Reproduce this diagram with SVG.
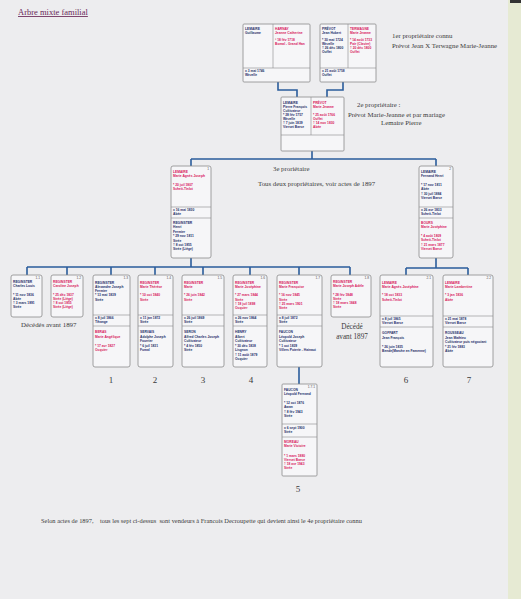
<svg xmlns="http://www.w3.org/2000/svg" width="521" height="599" viewBox="0 0 521 599">
<style>
.bg{fill:#ededef}
.b{fill:#f6f6f8;stroke:#8c8c8c;stroke-width:0.8}
.d{stroke:#8c8c8c;stroke-width:0.6;fill:none}
.t{font-family:"Liberation Sans",Arial,sans-serif;font-size:3.3px;font-weight:bold}
.m{fill:#1f2f6a}
.f{fill:#d8175c}
.l{font-family:"Liberation Sans",Arial,sans-serif;font-size:3.3px;fill:#555;text-anchor:end}
.c{stroke:#2a5c9c;stroke-width:1.6;fill:none}
.s{font-family:"Liberation Serif","Times New Roman",serif;fill:#3a3a3a}
.n{font-family:"Liberation Serif","Times New Roman",serif;fill:#3a3a3a;font-size:9px;text-anchor:middle}
</style>
<rect class="bg" x="0" y="0" width="521" height="599"/>
<rect x="508" y="0" width="13" height="599" fill="#e6ead3"/>
<rect x="510" y="0" width="11" height="3" fill="#333"/>

<text class="s" x="18" y="15" font-size="8.5" style="fill:#6a2858" text-decoration="underline">Arbre mixte familial</text>

<g id="connectors">
<path class="c" d="M278 82V90H297V97"/>
<path class="c" d="M343 82V90H327V97"/>
<path class="c" d="M312 151V159M191 159H436M191 159V166M436 159V166"/>
<path class="c" d="M191 258V267M27 267H350M27 267V275M67 267V275M111 267V275M155 267V275M203 267V275M250 267V275M299 267V275M350 267V275"/>
<path class="c" d="M436 258V268M406 268H468M406 268V275M468 268V275"/>
<path class="c" d="M299 367V384"/>
</g>

<g id="nodeA">
<rect class="b" x="243" y="24" width="67" height="58" rx="1"/>
<path class="d" d="M273 24V68M243 68H310"/>
<text class="t m" x="245" y="30">LEMAIRE<tspan x="245" dy="4">Guillaume</tspan></text>
<text class="t f" x="275" y="30">HARNAY<tspan x="275" dy="4">Jeanne Catherine</tspan><tspan x="275" dy="7">° 18 fév 1718</tspan><tspan x="275" dy="4">Bomal - Grand Han</tspan></text>
<text class="t m" x="245" y="72">x 3 mai 1746<tspan x="245" dy="4">Wezelle</tspan></text>
</g>

<g id="nodeB">
<rect class="b" x="320" y="24" width="56" height="58" rx="1"/>
<path class="d" d="M348 24V68M320 68H376"/>
<text class="t m" x="322" y="30">PRÉVOT<tspan x="322" dy="4">Jean Hubert</tspan><tspan x="322" dy="7">* 30 mai 1724</tspan><tspan x="322" dy="4">Wezelle</tspan><tspan x="322" dy="4">† 26 déc 1800</tspan><tspan x="322" dy="4">Ouffet</tspan></text>
<text class="t f" x="350" y="30">TERWAGNE<tspan x="350" dy="4">Marie Jeanne</tspan><tspan x="350" dy="7">* 14 août 1733</tspan><tspan x="350" dy="4">Pair (Clavier)</tspan><tspan x="350" dy="4">† 20 déc 1800</tspan><tspan x="350" dy="4">Ouffet</tspan></text>
<text class="t m" x="322" y="72">x 21 août 1758<tspan x="322" dy="4">Ouffet</tspan></text>
</g>

<g id="nodeC">
<rect class="b" x="281" y="97" width="63" height="54" rx="1"/>
<path class="d" d="M311 97V135M281 135H344"/>
<text class="t m" x="283" y="104">LEMAIRE<tspan x="283" dy="4">Pierre François</tspan><tspan x="283" dy="4">Cultivateur</tspan><tspan x="283" dy="4">* 28 fév 1757</tspan><tspan x="283" dy="4">Wezelle</tspan><tspan x="283" dy="4">† 7 juin 1839</tspan><tspan x="283" dy="4">Vierset Barse</tspan></text>
<text class="t f" x="313" y="104">PRÉVOT<tspan x="313" dy="4">Marie Jeanne</tspan><tspan x="313" dy="8">* 25 août 1766</tspan><tspan x="313" dy="4">Ouffet</tspan><tspan x="313" dy="4">† 14 nov 1830</tspan><tspan x="313" dy="4">Abée</tspan></text>
</g>

<g id="node1">
<rect class="b" x="171" y="166" width="40" height="92" rx="2"/>
<path class="d" d="M171 207H211M171 218H211"/>
<text class="l" x="209" y="170">1</text>
<text class="t f" x="173" y="173">LEMAIRE<tspan x="173" dy="4.3">Marie Agnès Joseph</tspan><tspan x="173" dy="8.6">* 20 juil 1807</tspan><tspan x="173" dy="4.3">Scheit-Tinlot</tspan></text>
<text class="t m" x="173" y="211">x 16 mai 1830<tspan x="173" dy="4">Abée</tspan></text>
<text class="t m" x="173" y="224">REGINSTER<tspan x="173" dy="4.4">Henri</tspan><tspan x="173" dy="4.4">Fermier</tspan><tspan x="173" dy="4.4">* 29 nov 1811</tspan><tspan x="173" dy="4.4">Strée</tspan><tspan x="173" dy="4.4">† 8 oct 1855</tspan><tspan x="173" dy="4.4">Strée (Liège)</tspan></text>
</g>

<g id="node2">
<rect class="b" x="419" y="166" width="34" height="92" rx="2"/>
<path class="d" d="M419 207H453M419 218H453"/>
<text class="l" x="451" y="170">2</text>
<text class="t m" x="421" y="173">LEMAIRE<tspan x="421" dy="4.3">Fernand Henri</tspan><tspan x="421" dy="8.6">* 17 nov 1811</tspan><tspan x="421" dy="4.3">Abée</tspan><tspan x="421" dy="4.3">† 30 juil 1884</tspan><tspan x="421" dy="4.3">Vierset Barse</tspan></text>
<text class="t m" x="421" y="211">x 26 avr 1833<tspan x="421" dy="4">Scheit-Tinlot</tspan></text>
<text class="t f" x="421" y="224">BOURS<tspan x="421" dy="4.3">Marie Joséphine</tspan><tspan x="421" dy="8.6">* 4 août 1809</tspan><tspan x="421" dy="4.3">Scheit-Tinlot</tspan><tspan x="421" dy="4.3">† 21 mars 1877</tspan><tspan x="421" dy="4.3">Vierset Barse</tspan></text>
</g>

<g id="node1-1">
<rect class="b" x="11" y="275" width="31" height="42" rx="2"/>
<text class="l" x="40" y="279">1.1</text>
<text class="t m" x="13" y="283">REGINSTER<tspan x="13" dy="4.2">Charles Louis</tspan><tspan x="13" dy="8.4">* 11 nov 1836</tspan><tspan x="13" dy="4.2">Abée</tspan><tspan x="13" dy="4.2">† 3 mars 1891</tspan><tspan x="13" dy="4.2">Strée</tspan></text>
</g>

<g id="node1-2">
<rect class="b" x="51" y="275" width="32" height="42" rx="2"/>
<text class="l" x="81" y="279">1.2</text>
<text class="t f" x="53" y="283">REGINSTER<tspan x="53" dy="4.2">Caroline Joseph</tspan><tspan x="53" dy="8.4">* 25 déc 1837</tspan><tspan x="53" dy="4.2">Strée (Liège)</tspan><tspan x="53" dy="4.2">† 8 oct 1855</tspan><tspan x="53" dy="4.2">Strée (Liège)</tspan></text>
</g>

<g id="node1-3">
<rect class="b" x="93" y="275" width="37" height="92" rx="2"/>
<path class="d" d="M93 315H130M93 326H130"/>
<text class="l" x="128" y="279">1.3</text>
<text class="t m" x="95" y="283.5">REGINSTER<tspan x="95" dy="4.3">Alexandre Joseph</tspan><tspan x="95" dy="4.3">Fermier</tspan><tspan x="95" dy="4.3">* 13 mai 1839</tspan><tspan x="95" dy="4.3">Strée</tspan></text>
<text class="t m" x="95" y="319">x 8 juil 1866<tspan x="95" dy="4">Tihange</tspan></text>
<text class="t f" x="95" y="333">BERAS<tspan x="95" dy="4.5">Marie Angélique</tspan><tspan x="95" dy="9">* 17 avr 1827</tspan><tspan x="95" dy="4.5">Ocquier</tspan></text>
</g>

<g id="node1-4">
<rect class="b" x="138" y="275" width="35" height="92" rx="2"/>
<path class="d" d="M138 315H173M138 326H173"/>
<text class="l" x="171" y="279">1.4</text>
<text class="t f" x="140" y="283.5">REGINSTER<tspan x="140" dy="4.3">Marie Thérèse</tspan><tspan x="140" dy="8.6">* 10 oct 1840</tspan><tspan x="140" dy="4.3">Strée</tspan></text>
<text class="t m" x="140" y="319">x 11 jan 1872<tspan x="140" dy="4">Strée</tspan></text>
<text class="t m" x="140" y="333">SERVAIS<tspan x="140" dy="4.5">Adolphe Joseph</tspan><tspan x="140" dy="4.5">Fourrier</tspan><tspan x="140" dy="4.5">* 6 juil 1831</tspan><tspan x="140" dy="4.5">Fumal</tspan></text>
</g>

<g id="node1-5">
<rect class="b" x="182" y="275" width="42" height="92" rx="2"/>
<path class="d" d="M182 315H224M182 326H224"/>
<text class="l" x="222" y="279">1.5</text>
<text class="t f" x="184" y="283.5">REGINSTER<tspan x="184" dy="4.3">Marie</tspan><tspan x="184" dy="8.6">* 26 juin 1842</tspan><tspan x="184" dy="4.3">Strée</tspan></text>
<text class="t m" x="184" y="319">x 26 juil 1869<tspan x="184" dy="4">Strée</tspan></text>
<text class="t m" x="184" y="333">SERON<tspan x="184" dy="4.5">Alfred Charles Joseph</tspan><tspan x="184" dy="4.5">Cultivateur</tspan><tspan x="184" dy="4.5">* 4 fév 1850</tspan><tspan x="184" dy="4.5">Strée</tspan></text>
</g>

<g id="node1-6">
<rect class="b" x="233" y="275" width="34" height="92" rx="2"/>
<path class="d" d="M233 315H267M233 326H267"/>
<text class="l" x="265" y="279">1.6</text>
<text class="t f" x="235" y="283.5">REGINSTER<tspan x="235" dy="4.3">Marie Joséphine</tspan><tspan x="235" dy="8.6">* 27 mars 1844</tspan><tspan x="235" dy="4.3">Strée</tspan><tspan x="235" dy="4.3">† 18 juil 1898</tspan><tspan x="235" dy="4.3">Ocquier</tspan></text>
<text class="t m" x="235" y="319">x 26 nov 1864<tspan x="235" dy="4">Strée</tspan></text>
<text class="t m" x="235" y="333">HENRY<tspan x="235" dy="4.5">Albert</tspan><tspan x="235" dy="4.5">Cultivateur</tspan><tspan x="235" dy="4.5">* 30 déc 1838</tspan><tspan x="235" dy="4.5">Lisgnon</tspan><tspan x="235" dy="4.5">† 11 août 1879</tspan><tspan x="235" dy="4.5">Ocquier</tspan></text>
</g>

<g id="node1-7">
<rect class="b" x="277" y="275" width="45" height="92" rx="2"/>
<path class="d" d="M277 315H322M277 326H322"/>
<text class="l" x="320" y="279">1.7</text>
<text class="t f" x="279" y="283.5">REGINSTER<tspan x="279" dy="4.3">Marie Françoise</tspan><tspan x="279" dy="8.6">* 16 nov 1845</tspan><tspan x="279" dy="4.3">Strée</tspan><tspan x="279" dy="4.3">† 25 mars 1901</tspan><tspan x="279" dy="4.3">Strée</tspan></text>
<text class="t m" x="279" y="319">x 8 juil 1872<tspan x="279" dy="4">Strée</tspan></text>
<text class="t m" x="279" y="333">FAUCON<tspan x="279" dy="4.5">Léopold Joseph</tspan><tspan x="279" dy="4.5">Cultivateur</tspan><tspan x="279" dy="4.5">* 1 oct 1839</tspan><tspan x="279" dy="4.5">Villers Poterie - Hainaut</tspan></text>
</g>

<g id="node1-8">
<rect class="b" x="331" y="275" width="40" height="42" rx="2"/>
<text class="l" x="369" y="279">1.8</text>
<text class="t f" x="333" y="283">REGINSTER<tspan x="333" dy="4.2">Marie Joseph Adèle</tspan><tspan x="333" dy="8.4">* 28 fév 1848</tspan><tspan x="333" dy="4.2">Strée</tspan><tspan x="333" dy="4.2">† 18 mars 1848</tspan><tspan x="333" dy="4.2">Strée</tspan></text>
</g>

<g id="node2-1">
<rect class="b" x="380" y="275" width="53" height="92" rx="2"/>
<path class="d" d="M380 316H433M380 327H433"/>
<text class="l" x="431" y="279">2.1</text>
<text class="t f" x="382" y="283.5">LEMAIRE<tspan x="382" dy="4.3">Marie Agnès Joséphine</tspan><tspan x="382" dy="8.6">* 18 oct 1833</tspan><tspan x="382" dy="4.3">Scheit-Tinlot</tspan></text>
<text class="t m" x="382" y="320">x 8 juil 1865<tspan x="382" dy="4">Vierset Barse</tspan></text>
<text class="t m" x="382" y="334">GOFFART<tspan x="382" dy="4.5">Jean François</tspan><tspan x="382" dy="9">* 26 juin 1835</tspan><tspan x="382" dy="4.5">Bende(Marche en Famenne)</tspan></text>
</g>

<g id="node2-2">
<rect class="b" x="443" y="275" width="50" height="92" rx="2"/>
<path class="d" d="M443 316H493M443 327H493"/>
<text class="l" x="491" y="279">2.2</text>
<text class="t f" x="445" y="283.5">LEMAIRE<tspan x="445" dy="4.3">Marie Lambertine</tspan><tspan x="445" dy="8.6">* 3 jan 1836</tspan><tspan x="445" dy="4.3">Abée</tspan></text>
<text class="t m" x="445" y="320">x 21 mai 1878<tspan x="445" dy="4">Vierset Barse</tspan></text>
<text class="t m" x="445" y="334">ROUSSEAU<tspan x="445" dy="4.5">Jean Mathieu</tspan><tspan x="445" dy="4.5">Cultivateur puis négociant</tspan><tspan x="445" dy="4.5">* 21 fév 1883</tspan><tspan x="445" dy="4.5">Abée</tspan></text>
</g>

<g id="node1-7-1">
<rect class="b" x="282" y="384" width="35" height="92" rx="1"/>
<path class="d" d="M282 424H317M282 437H317"/>
<text class="l" x="315" y="388">1.7.1</text>
<text class="t m" x="284" y="391">FAUCON<tspan x="284" dy="4.2">Léopold Fernand</tspan><tspan x="284" dy="9">* 12 oct 1876</tspan><tspan x="284" dy="4.2">Awan</tspan><tspan x="284" dy="4.2">† 8 fév 1943</tspan><tspan x="284" dy="4.2">Strée</tspan></text>
<text class="t m" x="284" y="429">x 6 sept 1900<tspan x="284" dy="4">Strée</tspan></text>
<text class="t f" x="284" y="443">MOREAU<tspan x="284" dy="4.2">Marie Victoire</tspan><tspan x="284" dy="9.5">* 1 mars 1880</tspan><tspan x="284" dy="4.2">Vierset Barse</tspan><tspan x="284" dy="4.2">† 18 avr 1943</tspan><tspan x="284" dy="4.2">Strée</tspan></text>
</g>

<g id="notes">
<text class="s" x="392" y="38" font-size="6.8">1er propriétaire connu</text>
<text class="s" x="392" y="47.5" font-size="6.8">Prévot Jean X Terwagne Marie-Jeanne</text>
<text class="s" x="357" y="107" font-size="6.8">2e propriétaire :</text>
<text class="s" x="348" y="116.5" font-size="6.8">Prévot Marie-Jeanne et par mariage</text>
<text class="s" x="381" y="125" font-size="6.8">Lemaire Pierre</text>
<text class="s" x="273" y="170.5" font-size="6.8">3e proriétaire</text>
<text class="s" x="258" y="185.5" font-size="6.8">Tous deux propriétaires, voir actes de 1897</text>
<text class="s" x="21" y="326.5" font-size="6.9">Décédés avant 1897</text>
<text class="s" x="352" y="328.5" font-size="7.2" text-anchor="middle">Décédé</text>
<text class="s" x="352" y="338.5" font-size="7.2" text-anchor="middle">avant 1897</text>
<text class="n" x="111" y="383">1</text>
<text class="n" x="155" y="383">2</text>
<text class="n" x="203" y="383">3</text>
<text class="n" x="251" y="383">4</text>
<text class="n" x="298" y="492">5</text>
<text class="n" x="406" y="383">6</text>
<text class="n" x="469" y="383">7</text>
<text class="s" x="41" y="523" font-size="6.4" xml:space="preserve">Selon actes de 1897,    tous les sept ci-dessus  sont vendeurs à Francois Decroupette qui devient ainsi le 4e propriétaire connu</text>
</g>
</svg>
